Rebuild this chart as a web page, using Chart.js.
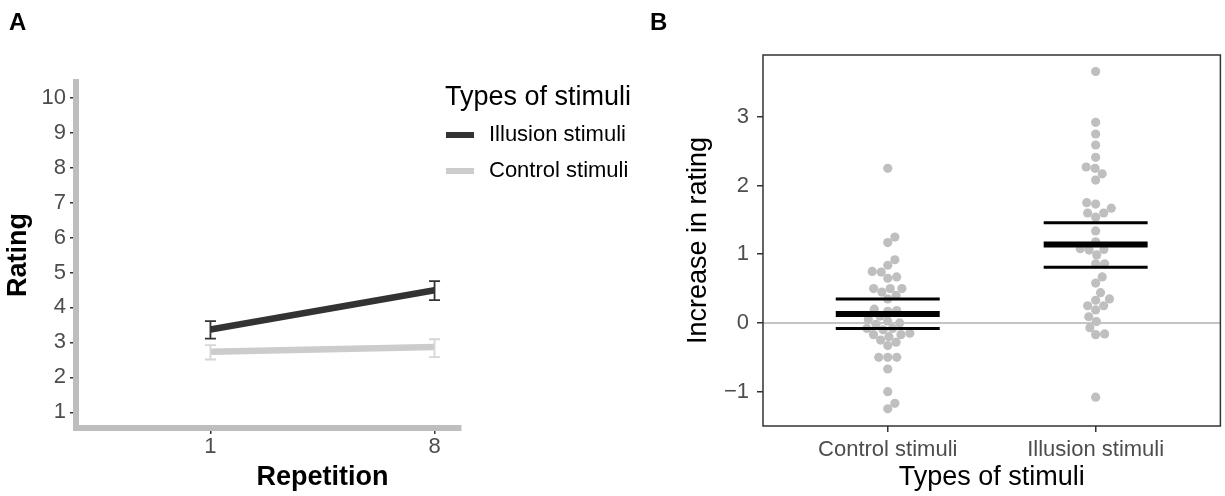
<!DOCTYPE html>
<html>
<head>
<meta charset="utf-8">
<script src="https://cdn.jsdelivr.net/npm/chart.js@4.4.1/dist/chart.umd.min.js"></script>
<style>
html, body { margin: 0; padding: 0; background: #fff; overflow: hidden; }
#wrap { position: relative; width: 1225px; height: 496px; }
#boxA { position: absolute; left: 0; top: 0; width: 640px; height: 496px; }
#boxB { position: absolute; left: 640px; top: 0; width: 585px; height: 496px; }
</style>
</head>
<body>
<div id="wrap">
    <div id="boxA"><canvas id="chartA"></canvas></div>
    <div id="boxB"><canvas id="chartB"></canvas></div>
</div>
<script>
const FONT = '"Liberation Sans", Helvetica, Arial, sans-serif';

// ── Panel A: rating per repetition ─────────────────────────────────────────────
const repetitions  = ['1', '8'];
const ratingTicks  = [1, 2, 3, 4, 5, 6, 7, 8, 9, 10];
const illusionMean = [3.37, 4.49];
const illusionLow  = [3.11, 4.21];
const illusionHigh = [3.61, 4.75];
const controlMean  = [2.73, 2.87];
const controlLow   = [2.51, 2.58];
const controlHigh  = [2.92, 3.09];

// ── Panel B: increase in rating per participant ────────────────────────────────
const stimTypes     = ['Control stimuli', 'Illusion stimuli'];
const increaseTicks = [-1, 0, 1, 2, 3];
const controlIncrease = [
    2.25, 1.25, 1.17, 0.92, 0.84, 0.75, 0.74, 0.67, 0.65, 0.5, 0.5, 0.5, 0.45, 0.4,
    0.35, 0.2, 0.18, 0.17, 0.1, 0.05, 0.03, 0.0, -0.02, -0.08, -0.08, -0.1, -0.15,
    -0.17, -0.17, -0.2, -0.25, -0.28, -0.33, -0.5, -0.5, -0.5, -0.67, -1.0, -1.17, -1.25,
];
const illusionIncrease = [
    3.66, 2.92, 2.75, 2.59, 2.41, 2.27, 2.25, 2.17, 2.08, 1.75, 1.73, 1.67, 1.6, 1.6,
    1.54, 1.34, 1.18, 1.08, 1.07, 1.06, 0.99, 0.86, 0.86, 0.67, 0.58, 0.44, 0.35, 0.33,
    0.25, 0.25, 0.19, 0.09, 0.02, -0.07, -0.16, -0.17, -1.08,
];
const meanIncrease = [0.13, 1.14];
const ciLow        = [-0.08, 0.81];
const ciHigh       = [0.35, 1.46];

Chart.defaults.font.family = FONT;
Chart.defaults.animation = false;

// Huruf panel (A / B) di pojok kiri atas.
const panelLetter = {
    id: 'panelLetter',
    afterDraw(chart, args, opts) {
        const ctx = chart.ctx;
        ctx.save();
        ctx.font = `bold 24px ${FONT}`;
        ctx.fillStyle = '#000';
        ctx.textBaseline = 'alphabetic';
        ctx.fillText(opts.text, opts.x, opts.y);
        ctx.restore();
    },
};

// Garis sumbu x abu-abu tebal, berhenti sedikit setelah tick terakhir.
const cappedXAxis = {
    id: 'cappedXAxis',
    afterDraw(chart, args, opts) {
        const { ctx, chartArea: a, scales: { x } } = chart;
        ctx.save();
        ctx.strokeStyle = '#bebebe';
        ctx.lineWidth = 6;
        ctx.beginPath();
        ctx.moveTo(a.left - 3, a.bottom);
        ctx.lineTo(x.getPixelForValue(opts.capAt), a.bottom);
        ctx.stroke();
        ctx.restore();
    },
};

// Error bar vertikal dengan cap, dari errLow/errHigh tiap dataset.
const errorBars = {
    id: 'errorBars',
    afterDatasetsDraw(chart) {
        const ctx = chart.ctx, xs = chart.scales.x, ys = chart.scales.y;
        chart.data.datasets.forEach(ds => {
            if (!ds.errLow) return;
            ctx.save();
            ctx.strokeStyle = ds.errColor;
            ctx.lineWidth = 1.8;
            ds.data.forEach((p, j) => {
                const x = xs.getPixelForValue(p.x);
                const y1 = ys.getPixelForValue(ds.errLow[j]);
                const y2 = ys.getPixelForValue(ds.errHigh[j]);
                ctx.beginPath();
                ctx.moveTo(x, y1); ctx.lineTo(x, y2);
                ctx.moveTo(x - 5.5, y1); ctx.lineTo(x + 5.5, y1);
                ctx.moveTo(x - 5.5, y2); ctx.lineTo(x + 5.5, y2);
                ctx.stroke();
            });
            ctx.restore();
        });
    },
};

// Legend gaya ggplot: judul + contoh garis.
const lineLegend = {
    id: 'lineLegend',
    afterDraw(chart, args, opts) {
        const ctx = chart.ctx;
        ctx.save();
        ctx.textBaseline = 'middle';
        ctx.fillStyle = '#000';
        ctx.font = `27px ${FONT}`;
        ctx.fillText(opts.title, opts.x, opts.y);
        ctx.font = `22px ${FONT}`;
        chart.data.datasets.forEach((ds, i) => {
            const y = opts.y + 37 + i * 36;
            ctx.strokeStyle = ds.borderColor;
            ctx.lineWidth = 6;
            ctx.beginPath();
            ctx.moveTo(opts.x + 1, y); ctx.lineTo(opts.x + 29, y);
            ctx.stroke();
            ctx.fillText(ds.label, opts.x + 44, y);
        });
        ctx.restore();
    },
};

const posTicks = (labels) => (s) => { s.ticks = labels.map((_, i) => ({ value: i + 1 })); };

new Chart(document.getElementById('chartA'), {
    type: 'line',
    data: {
        datasets: [
            {
                label: 'Illusion stimuli',
                data: illusionMean.map((v, i) => ({ x: i + 1, y: v })),
                borderColor: '#333333', borderWidth: 6.5, pointRadius: 0,
                errLow: illusionLow, errHigh: illusionHigh, errColor: '#333333',
            },
            {
                label: 'Control stimuli',
                data: controlMean.map((v, i) => ({ x: i + 1, y: v })),
                borderColor: '#cccccc', borderWidth: 6.5, pointRadius: 0,
                errLow: controlLow, errHigh: controlHigh, errColor: '#d6d6d6',
            },
        ],
    },
    options: {
        responsive: true,
        maintainAspectRatio: false,
        devicePixelRatio: 1,
        layout: { padding: { top: 82, right: 71, left: 0, bottom: 0 } },
        plugins: {
            legend: { display: false },
            tooltip: { enabled: false },
            panelLetter: { text: 'A', x: 9, y: 30 },
            lineLegend: { title: 'Types of stimuli', x: 445, y: 98 },
            cappedXAxis: { capAt: 2.12 },
        },
        scales: {
            x: {
                type: 'linear', min: 0.4, max: 2.6,
                afterBuildTicks: posTicks(repetitions),
                afterFit: (s) => { s.height = 68; },
                ticks: { callback: (v) => repetitions[Math.round(v) - 1], color: '#4d4d4d', font: { size: 22 }, padding: 0 },
                grid: { drawOnChartArea: false, drawTicks: true, tickLength: 6, color: '#333333', lineWidth: 1.5 },
                border: { display: false },
                title: { display: true, text: 'Repetition', color: '#000', font: { size: 27, weight: 'bold' }, padding: { top: 0, bottom: 2 } },
            },
            y: {
                min: 0.55, max: 10.45,
                afterBuildTicks: (s) => { s.ticks = ratingTicks.map(v => ({ value: v })); },
                afterFit: (s) => { s.width = 76; },
                ticks: { color: '#4d4d4d', font: { size: 22 }, padding: 4 },
                grid: { drawOnChartArea: false, drawTicks: true, tickLength: 6, color: '#333333', lineWidth: 1.5 },
                border: { display: true, color: '#bebebe', width: 6 },
                title: { display: true, text: 'Rating', color: '#000', font: { size: 27, weight: 'bold' }, padding: { top: 2, bottom: 0 } },
            },
        },
    },
    plugins: [panelLetter, errorBars, lineLegend, cappedXAxis],
});

// ── Panel B ─────────────────────────────────────────────────────────────────────
// Garis nol di bawah titik; garis mean & CI di atas titik; bingkai panel.
const panelDeco = {
    id: 'panelDeco',
    beforeDatasetsDraw(chart) {
        const { ctx, chartArea: a, scales: { y } } = chart;
        const y0 = y.getPixelForValue(0);
        ctx.save();
        ctx.strokeStyle = '#c4c4c4';
        ctx.lineWidth = 2;
        ctx.beginPath(); ctx.moveTo(a.left, y0); ctx.lineTo(a.right, y0); ctx.stroke();
        ctx.restore();
    },
    afterDatasetsDraw(chart) {
        const { ctx, scales: { x, y } } = chart;
        ctx.save();
        ctx.strokeStyle = '#000';
        const seg = (i, v, w) => {
            ctx.lineWidth = w;
            ctx.beginPath();
            ctx.moveTo(x.getPixelForValue(i + 1 - 0.25), y.getPixelForValue(v));
            ctx.lineTo(x.getPixelForValue(i + 1 + 0.25), y.getPixelForValue(v));
            ctx.stroke();
        };
        meanIncrease.forEach((m, i) => {
            seg(i, ciLow[i], 3);
            seg(i, ciHigh[i], 3);
            seg(i, m, 6);
        });
        ctx.restore();
    },
    afterDraw(chart) {
        const { ctx, chartArea: a } = chart;
        ctx.save();
        ctx.strokeStyle = '#333333';
        ctx.lineWidth = 1.5;
        ctx.strokeRect(a.left, a.top, a.right - a.left, a.bottom - a.top);
        ctx.restore();
    },
};

// Beeswarm sederhana: cari offset horizontal terdekat ke pusat yang tidak bertabrakan.
function swarmOffsets(values, yScale, xScale, diam) {
    const unit = xScale.getPixelForValue(2) - xScale.getPixelForValue(1);
    const pts = values.map((v, i) => ({ i, py: yScale.getPixelForValue(v) }));
    pts.sort((a, b) => b.py - a.py);
    const placed = [];
    const offs = new Array(values.length).fill(0);
    pts.forEach(p => {
        const near = placed.filter(q => Math.abs(q.py - p.py) < diam);
        const cands = [0];
        near.forEach(q => {
            const dx = Math.sqrt(diam * diam - (q.py - p.py) ** 2);
            cands.push(q.px + dx, q.px - dx);
        });
        cands.sort((a, b) => Math.abs(a) - Math.abs(b));
        const px = cands.find(c => near.every(q => Math.hypot(q.px - c, q.py - p.py) >= diam - 0.01));
        placed.push({ px, py: p.py });
        offs[p.i] = px / unit;
    });
    return offs;
}

const groups = [controlIncrease, illusionIncrease];

const chartB = new Chart(document.getElementById('chartB'), {
    type: 'scatter',
    data: {
        datasets: groups.map((vals, g) => ({
            label: stimTypes[g],
            data: vals.map(v => ({ x: g + 1, y: v })),
            backgroundColor: '#bfbfbf', borderWidth: 0, pointRadius: 4.6,
        })),
    },
    options: {
        responsive: true,
        maintainAspectRatio: false,
        devicePixelRatio: 1,
        layout: { padding: { top: 55, right: 2, left: 0, bottom: 0 } },
        plugins: {
            legend: { display: false },
            tooltip: { enabled: false },
            panelLetter: { text: 'B', x: 10, y: 30 },
        },
        scales: {
            x: {
                type: 'linear', min: 0.4, max: 2.6,
                afterBuildTicks: posTicks(stimTypes),
                afterFit: (s) => { s.height = 70; },
                ticks: { callback: (v) => stimTypes[Math.round(v) - 1], color: '#4d4d4d', font: { size: 22 }, padding: 5 },
                grid: { drawOnChartArea: false, drawTicks: true, tickLength: 6, color: '#333333', lineWidth: 1.5 },
                border: { display: false },
                title: { display: true, text: 'Types of stimuli', color: '#000', font: { size: 27 }, padding: { top: 0, bottom: 2 } },
            },
            y: {
                min: -1.5, max: 3.9,
                afterBuildTicks: (s) => { s.ticks = increaseTicks.map(v => ({ value: v })); },
                afterFit: (s) => { s.width = 123; },
                ticks: { callback: (v) => (v < 0 ? '\u2212' + Math.abs(v) : String(v)), color: '#4d4d4d', font: { size: 22 }, padding: 8 },
                grid: { drawOnChartArea: false, drawTicks: true, tickLength: 6, color: '#333333', lineWidth: 1.5 },
                border: { display: false },
                title: { display: true, text: 'Increase in rating', color: '#000', font: { size: 27 }, padding: { top: 42, bottom: 0 } },
            },
        },
    },
    plugins: [panelLetter, panelDeco],
});

// Posisi beeswarm dihitung setelah skala terbentuk.
groups.forEach((vals, g) => {
    const offs = swarmOffsets(vals, chartB.scales.y, chartB.scales.x, 9);
    chartB.data.datasets[g].data = vals.map((v, i) => ({ x: g + 1 + offs[i], y: v }));
});
chartB.update('none');
</script>
</body>
</html>
